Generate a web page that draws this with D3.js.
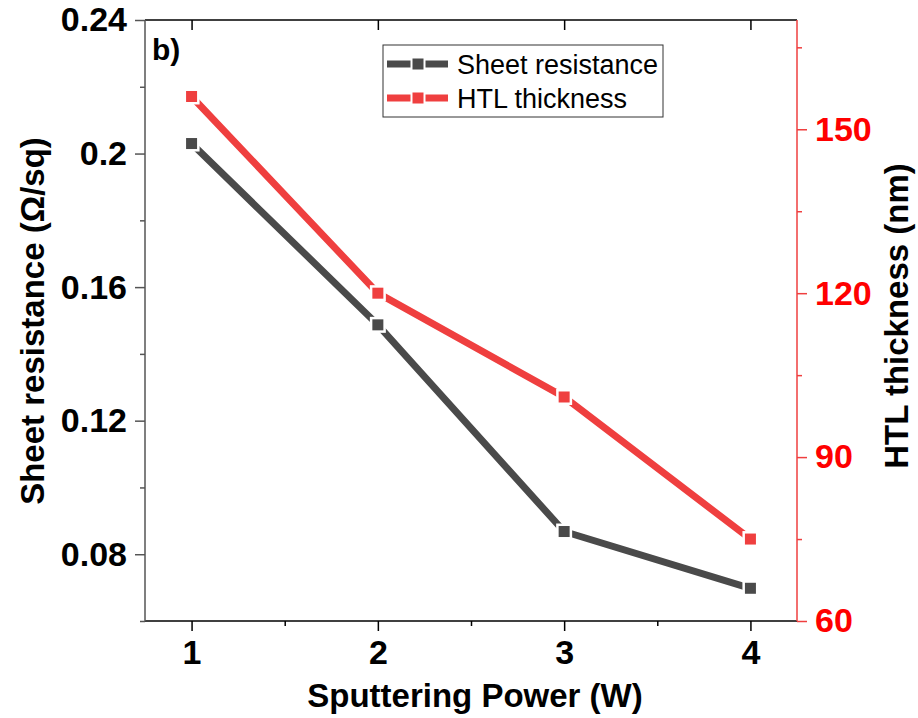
<!DOCTYPE html>
<html lang="en">
<head>
  <meta charset="UTF-8">
  <title>Sheet resistance and HTL thickness</title>
  <style>
    body { margin: 0; background: #fff; }
    svg { font-family: "Liberation Sans", Arial, sans-serif; }
    .tick text { font-weight: bold; font-size: 34px; }
  </style>
</head>
<body>
  <svg id="chart" width="918" height="718"></svg>

  <script src="https://cdnjs.cloudflare.com/ajax/libs/d3/7.8.5/d3.min.js"></script>
  <script>
    // values
    const power = [1, 2, 3, 4]
    const sheetResistance = [0.203, 0.1487, 0.0868, 0.0698]
    const htlThickness = [156, 120, 101, 75]
    const leftTicks = [0.08, 0.12, 0.16, 0.2, 0.24]
    const rightTicks = [60, 90, 120, 150]

    const gray = '#4a4a4a'
    const red = '#ef3f3f'

    // plot frame
    const margin = { top: 20, right: 121, bottom: 97, left: 145 }
    const width = 918 - margin.left - margin.right
    const height = 718 - margin.top - margin.bottom

    const svg = d3.select('#chart')
    const g = svg.append('g')
      .attr('transform', `translate(${margin.left}, ${margin.top})`)

    const x = d3.scaleLinear().domain([0.75, 4.25]).range([0, width])
    const yLeft = d3.scaleLinear().domain([0.06, 0.24]).range([height, 0])
    const yRight = d3.scaleLinear().domain([60, 170]).range([height, 0])

    // minor ticks first (no labels), then majors
    function minor(axis, values, color) {
      return sel => {
        sel.call(axis.tickValues(values).tickSize(5).tickFormat(''))
        sel.select('.domain').remove()
        sel.selectAll('line').attr('stroke', color).attr('stroke-width', 1.5)
      }
    }

    // bottom
    g.append('g').attr('transform', `translate(0, ${height})`)
      .call(minor(d3.axisBottom(x), [1.5, 2.5, 3.5], '#000'))
    const xAxisG = g.append('g').attr('transform', `translate(0, ${height})`)
      .call(d3.axisBottom(x).tickValues(power).tickSize(10).tickPadding(9).tickFormat(d3.format('d')))
    xAxisG.select('.domain').remove()
    xAxisG.selectAll('line').attr('stroke', '#000').attr('stroke-width', 1.5)
    xAxisG.selectAll('text').attr('fill', '#000')

    // top (ticks point inward)
    const topAxisG = g.append('g')
      .call(d3.axisTop(x).tickValues(power).tickSize(-10).tickFormat(''))
    topAxisG.select('.domain').remove()
    topAxisG.selectAll('line').attr('stroke', '#000').attr('stroke-width', 1.5)

    // left
    g.append('g').call(minor(d3.axisLeft(yLeft), [0.06, 0.1, 0.14, 0.18, 0.22], '#555'))
    const leftAxisG = g.append('g')
      .call(d3.axisLeft(yLeft).tickValues(leftTicks).tickSize(10).tickPadding(8).tickFormat(d => String(+d.toFixed(2))))
    leftAxisG.select('.domain').remove()
    leftAxisG.selectAll('line').attr('stroke', '#555').attr('stroke-width', 1.5)
    leftAxisG.selectAll('text').attr('fill', '#000')

    // right
    g.append('g').attr('transform', `translate(${width}, 0)`)
      .call(minor(d3.axisRight(yRight), [75, 105, 135, 165], red))
    const rightAxisG = g.append('g').attr('transform', `translate(${width}, 0)`)
      .call(d3.axisRight(yRight).tickValues(rightTicks).tickSize(10).tickPadding(8))
    rightAxisG.select('.domain').remove()
    rightAxisG.selectAll('line').attr('stroke', red).attr('stroke-width', 1.5)
    rightAxisG.selectAll('text').attr('fill', '#ff0000')

    // frame lines
    g.append('line').attr('x1', 0).attr('x2', width).attr('y1', height).attr('y2', height)
      .attr('stroke', '#000').attr('stroke-width', 1.5)
    g.append('line').attr('x1', 0).attr('x2', width).attr('y1', 0).attr('y2', 0)
      .attr('stroke', '#000').attr('stroke-width', 1.5)
    g.append('line').attr('x1', 0).attr('x2', 0).attr('y1', 0).attr('y2', height)
      .attr('stroke', '#555').attr('stroke-width', 1.5)
    g.append('line').attr('x1', width).attr('x2', width).attr('y1', 0).attr('y2', height)
      .attr('stroke', red).attr('stroke-width', 1.5)

    // series
    const series = [
      { name: 'Sheet resistance', values: sheetResistance, y: yLeft, color: gray },
      { name: 'HTL thickness', values: htlThickness, y: yRight, color: red }
    ]

    const line = s => d3.line()
      .x((d, i) => x(power[i]))
      .y(d => s.y(d))(s.values)

    series.forEach(s => {
      g.append('path')
        .attr('d', line(s))
        .attr('fill', 'none')
        .attr('stroke', s.color)
        .attr('stroke-width', 7)
    })

    const mk = 11
    series.forEach(s => {
      g.selectAll(null)
        .data(s.values)
        .enter()
        .append('rect')
        .attr('x', (d, i) => x(power[i]) - mk / 2)
        .attr('y', d => s.y(d) - mk / 2)
        .attr('width', mk)
        .attr('height', mk)
        .attr('fill', s.color)
        .attr('stroke', '#fff')
        .attr('stroke-width', 5)
        .style('paint-order', 'stroke')
    })

    // legend
    const legend = svg.append('g').attr('transform', 'translate(383, 45)')
    legend.append('rect')
      .attr('width', 280).attr('height', 72)
      .attr('fill', '#fff').attr('stroke', '#333').attr('stroke-width', 1)
    series.forEach((s, i) => {
      const row = legend.append('g').attr('transform', `translate(0, ${19 + i * 34})`)
      row.append('line')
        .attr('x1', 4).attr('x2', 65)
        .attr('stroke', s.color).attr('stroke-width', 7)
      row.append('rect')
        .attr('x', 35 - mk / 2).attr('y', -mk / 2)
        .attr('width', mk).attr('height', mk)
        .attr('fill', s.color)
        .attr('stroke', '#fff').attr('stroke-width', 4)
        .style('paint-order', 'stroke')
      row.append('text')
        .attr('x', 74).attr('y', 10)
        .attr('font-size', 27)
        .attr('fill', '#000')
        .text(s.name)
    })

    // panel label
    svg.append('text')
      .attr('x', 152).attr('y', 60)
      .attr('font-size', 30).attr('font-weight', 'bold')
      .text('b)')

    // axis titles
    svg.append('text')
      .attr('x', 475).attr('y', 707)
      .attr('text-anchor', 'middle')
      .attr('font-size', 33).attr('font-weight', 'bold')
      .text('Sputtering Power (W)')

    svg.append('text')
      .attr('transform', 'translate(44, 321) rotate(-90)')
      .attr('text-anchor', 'middle')
      .attr('font-size', 33).attr('font-weight', 'bold')
      .text('Sheet resistance (Ω/sq)')

    svg.append('text')
      .attr('transform', 'translate(908, 316) rotate(-90)')
      .attr('text-anchor', 'middle')
      .attr('font-size', 33).attr('font-weight', 'bold')
      .text('HTL thickness (nm)')
  </script>
</body>
</html>
